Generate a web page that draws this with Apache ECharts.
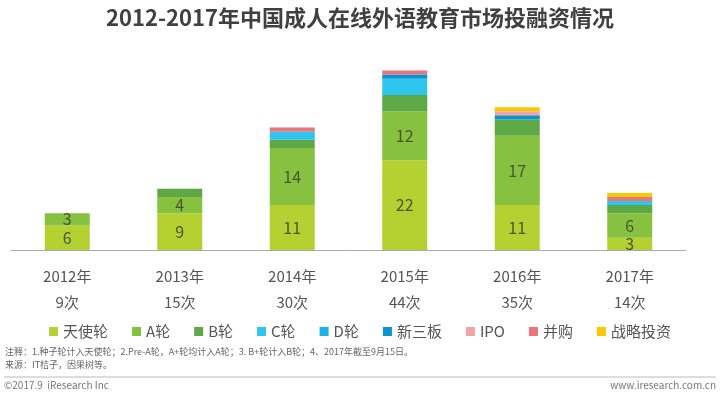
<!DOCTYPE html>
<html><head><meta charset="utf-8">
<script src="https://cdn.jsdelivr.net/npm/echarts@6/dist/echarts.min.js"></script>
<style>html,body{margin:0;padding:0;background:#fff}#c{width:720px;height:394px}</style>
</head><body><div id="c"></div>
<script>
const years = ['2012年','2013年','2014年','2015年','2016年','2017年'];
const counts = ['9次','15次','30次','44次','35次','14次'];
const seriesNames = ['天使轮','A轮','B轮','C轮','D轮','新三板','IPO','并购','战略投资'];
const angel    = [6, 9, 11, 22, 11, 3];
const roundA   = [3, 4, 14, 12, 17, 6];
const roundB   = [0, 2, 2, 4, 4, 2];
const roundC   = [0, 0, 2, 4, 0, 1];
const roundD   = [0, 0, 0, 0, 0, 0];
const neeq     = [0, 0, 0, 1, 1, 0];
const ipo      = [0, 0, 0, 0, 1, 0];
const mna      = [0, 0, 1, 1, 0, 1];
const strategic= [0, 0, 0, 0, 1, 1];
const seriesData = [angel, roundA, roundB, roundC, roundD, neeq, ipo, mna, strategic];
const colors = ['#b4d131','#86c13f','#5ea945','#2ec6ee','#1bb2e8','#0d92d0','#f3a4a7','#e8767e','#f9c900'];
const labeled = ['天使轮','A轮'];

const font = '"Noto Sans CJK SC", "Noto Sans", sans-serif';
const chart = echarts.init(document.getElementById('c'));
chart.setOption({
  animation: false,
  textStyle: {fontFamily: font},
  title: {
    text: '2012-2017年中国成人在线外语教育市场投融资情况',
    left: 'center', top: 2,
    textStyle: {fontSize: 22, fontWeight: 'bold', color: '#404040', fontFamily: font}
  },
  legend: {
    data: seriesNames, top: 319, left: 'center',
    icon: 'rect', itemWidth: 9, itemHeight: 9, itemGap: 24,
    textStyle: {fontSize: 15, color: '#555', fontFamily: font}
  },
  grid: {left: 11, width: 675, top: 46, height: 204},
  xAxis: {
    type: 'category',
    data: years.map((y, i) => y + '\n' + counts[i]),
    axisLine: {lineStyle: {color: '#aaa', width: 1}},
    axisTick: {show: false},
    axisLabel: {fontSize: 15, color: '#555', lineHeight: 26, margin: 13, fontFamily: font}
  },
  yAxis: {type: 'value', min: 0, max: 50, show: false, splitLine: {show: false}},
  series: seriesNames.map((name, i) => ({
    name, type: 'bar', stack: 'total', barWidth: 45,
    itemStyle: {color: colors[i]},
    label: {
      show: labeled.includes(name), position: 'inside',
      fontSize: 16, color: '#4a5530', fontFamily: font,
      formatter: p => p.value > 0 ? p.value : ''
    },
    data: seriesData[i]
  })),
  graphic: [
    {type: 'text', left: 5, top: 347, style: {text: '注释：1.种子轮计入天使轮；2.Pre-A轮，A+轮均计入A轮；3. B+轮计入B轮；4、2017年截至9月15日。', fontSize: 9, fill: '#666', fontFamily: font}},
    {type: 'text', left: 5, top: 360, style: {text: '来源：IT桔子，因果树等。', fontSize: 9, fill: '#666', fontFamily: font}},
    {type: 'line', shape: {x1: 4, y1: 377, x2: 716, y2: 377}, style: {stroke: '#bbb', lineWidth: 1}},
    {type: 'text', left: 4, top: 380, style: {text: '©2017.9  iResearch Inc', fontSize: 10, fill: '#777', fontFamily: font}},
    {type: 'text', right: 4, top: 380, style: {text: 'www.iresearch.com.cn', fontSize: 10, fill: '#777', fontFamily: font}}
  ]
});
</script></body></html>
